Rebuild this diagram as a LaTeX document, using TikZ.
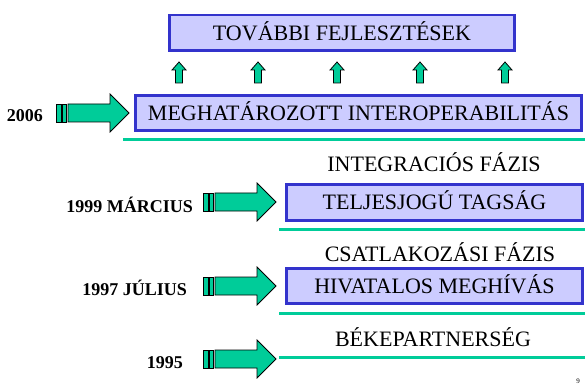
\documentclass[tikz,border=0pt]{standalone}
\usepackage{fontspec}
\setmainfont{Liberation Serif}
\usepackage{tikz}
\usetikzlibrary{calc}
\definecolor{boxfill}{HTML}{CCCCFF}
\definecolor{boxline}{HTML}{3333CC}
\definecolor{mint}{HTML}{00CC99}
\tikzset{
  phase/.style={draw=boxline, fill=boxfill, line width=2.5pt, minimum height=35pt,
    inner sep=0pt, text height=14.6pt, text depth=0pt, font=\fontsize{22}{26}\selectfont},
  plain/.style={inner sep=0pt, text height=14.6pt, text depth=0pt, font=\fontsize{22}{26}\selectfont},
  year/.style={inner sep=0pt, anchor=base east, font=\fontsize{18}{22}\selectfont\bfseries},
  rule/.style={draw=mint, line width=3pt},
  blockarr/.style={draw=black, fill=mint, line width=0.8pt, line join=miter}
}
\begin{document}
\begin{tikzpicture}[x=1pt, y=-1pt]
  \useasboundingbox (0,0) rectangle (585,387);

  % boxes
  \node[phase, minimum width=345pt, minimum height=35.5pt] (further) at (342,33) {TOVÁBBI FEJLESZTÉSEK};
  \node[phase, minimum width=446pt] (interop) at (358.5,113) {MEGHATÁROZOTT INTEROPERABILITÁS};
  \node[phase, minimum width=296pt, minimum height=36pt] (member) at (434.5,202.5) {TELJESJOGÚ TAGSÁG};
  \node[phase, minimum width=296pt] (invite) at (434.5,286) {HIVATALOS MEGHÍVÁS};

  % phase labels
  \node[plain] (integ) at (434,164.5) {INTEGRACIÓS FÁZIS};
  \node[plain] (accede) at (440,254.5) {CSATLAKOZÁSI FÁZIS};
  \node[plain] (peace) at (433,339.5) {BÉKEPARTNERSÉG};

  % green rules
  \draw[rule] (123,140) -- (585,140);
  \draw[rule] (279,229) -- (585,229);
  \draw[rule] (279,313) -- (585,313);
  \draw[rule] (279,357) -- (585,357);

  % years
  \node[year] (y2006) at (43,122) {2006};
  \node[year] (y1999) at (193,212) {1999 MÁRCIUS};
  \node[year] (y1997) at (187,295) {1997 JÚLIUS};
  \node[year] (y1995) at (183,368) {1995};

  % block arrows
  \coordinate (t2006) at (56,113);
  \coordinate (t1999) at (203,202);
  \coordinate (t1997) at (203,286);
  \coordinate (t1995) at (203,359);
  \foreach \t in {t2006,t1999,t1997,t1995} {
    \draw[blockarr] ([shift={(0,-9)}]\t) rectangle ([shift={(5,9)}]\t);
    \draw[blockarr] ([shift={(6,-9)}]\t) rectangle ([shift={(10.5,9)}]\t);
    \draw[blockarr] ([shift={(12,-9)}]\t) -- ++(42,0) -- ++(0,-10) -- ++(19,19)
      -- ++(-19,19) -- ++(0,-10) -- ++(-42,0) -- cycle;
  }

  % small up arrows
  \foreach \c in {179,258,337,420,505}
    \draw[blockarr] (\c-3.5,83) -- (\c-3.5,70) -- (\c-7,70) -- (\c,62)
      -- (\c+7,70) -- (\c+3.5,70) -- (\c+3.5,83) -- cycle;

  \node[inner sep=0pt, font=\fontsize{7}{8}\selectfont] (pageno) at (578,381) {9};
\end{tikzpicture}
\end{document}
